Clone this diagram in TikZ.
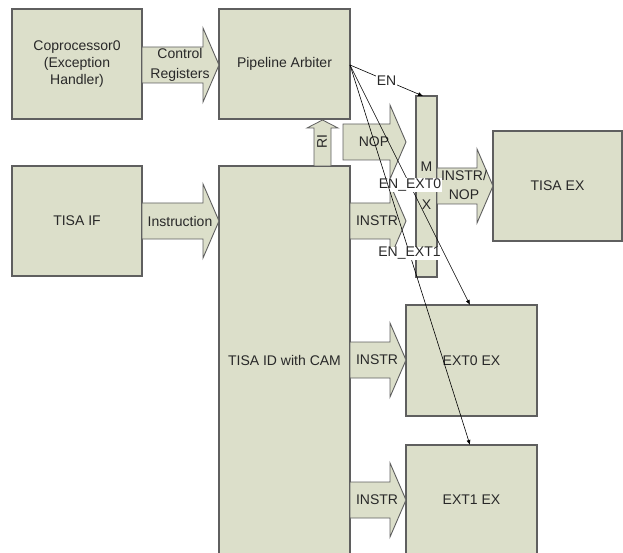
\documentclass[tikz,border=0pt]{standalone}
\usepackage{fontspec}
\setmainfont{Liberation Sans}
\usetikzlibrary{arrows.meta}
\definecolor{boxfill}{RGB}{220,223,202}
\definecolor{boxline}{RGB}{95,95,95}
\definecolor{txt}{RGB}{40,40,40}
\tikzset{
  blk/.style={draw=boxline, fill=boxfill, line width=1.1pt, inner sep=0pt, outer sep=0pt,
    font=\fontsize{14}{17}\selectfont, text=txt, align=center},
  fatarrow/.style={draw=boxline, fill=boxfill, line width=0.9pt, line join=miter},
  lbl/.style={font=\fontsize{14}{19}\selectfont, text=txt, align=center, inner sep=0pt},
  sig/.style={draw=black, line width=0.6pt, -{Latex[length=5pt,width=4pt]}},
  siglbl/.style={font=\fontsize{14}{17}\selectfont, text=txt, fill=white, inner sep=0.6pt},
}
\newcommand\fatR[4]{%
  \draw[fatarrow] (#2,#4-18) -- (#3-16,#4-18) -- (#3-16,#4-37) -- (#3,#4)
    -- (#3-16,#4+37) -- (#3-16,#4+18) -- (#2,#4+18) -- cycle;
  \coordinate (#1) at ({(#2+#3)/2},#4);
}
\begin{document}
\begin{tikzpicture}[x=1pt,y=-1pt]
\useasboundingbox (0,0) rectangle (623,553);
% boxes
\node[blk, anchor=north west, minimum width=130pt, minimum height=110pt] (cop) at (12,9)
  {\fontsize{14}{17}\selectfont Coprocessor0\\(Exception\\Handler)};
\node[blk, anchor=north west, minimum width=131pt, minimum height=110pt] (arb) at (219,9) {Pipeline Arbiter};
\node[blk, anchor=north west, minimum width=130pt, minimum height=110pt] (if) at (12,166) {TISA IF};
\node[blk, anchor=north west, minimum width=131pt, minimum height=388pt] (id) at (219,166) {TISA ID with CAM};
\node[blk, anchor=north west, minimum width=129pt, minimum height=110pt] (tex) at (493,131) {TISA EX};
\node[blk, anchor=north west, minimum width=131pt, minimum height=111pt] (ext0) at (406,305) {EXT0 EX};
\node[blk, anchor=north west, minimum width=131pt, minimum height=109pt] (ext1) at (406,445) {EXT1 EX};
\node[blk, anchor=north west, minimum width=21pt, minimum height=181pt] (mux) at (416,96) {};
\node[lbl] (muxm) at (426.5,167) {M};
\node[lbl] (muxx) at (426.5,205) {X};
% fat arrows
\fatR{ca}{142}{219}{65}
\node[lbl, font=\fontsize{14}{20}\selectfont] (calbl) at (180,65) {Control\\Registers};
\fatR{ia}{142}{219}{221}
\node[lbl] (ialbl) at (180,221) {Instruction};
\fatR{na}{343}{406}{142}
\node[lbl] (nalbl) at (374,142) {NOP};
\fatR{ua}{350}{406}{221}
\node[lbl] (ualbl) at (377,221) {INSTR};
\fatR{oa}{437}{493}{186}
\node[lbl] (oalbl) at (464,185) {INSTR/\\NOP};
\fatR{e0a}{350}{406}{360}
\node[lbl] (e0lbl) at (377,360) {INSTR};
\fatR{e1a}{350}{406}{500}
\node[lbl] (e1lbl) at (377,500) {INSTR};
% RI up arrow
\draw[fatarrow, line width=0.8pt] (314,166) -- (314,128) -- (307,128) -- (322.5,120) -- (338,128) -- (331,128) -- (331,166) -- cycle;
\node[lbl, rotate=90] (rilbl) at (322,142) {RI};
% signal lines
\coordinate (src) at (350,65);
\coordinate (muxin) at (423,96);
\coordinate (e0in) at (470,305);
\coordinate (e1in) at (470,445);
\draw[sig] (src) -- (muxin) node[siglbl, pos=0.5] (en) {EN};
\draw[sig] (src) -- (e0in) node[siglbl, pos=0.5] (en0) {EN\_EXT0};
\draw[sig] (src) -- (e1in) node[siglbl, pos=0.496] (en1) {EN\_EXT1};
\end{tikzpicture}
\end{document}
